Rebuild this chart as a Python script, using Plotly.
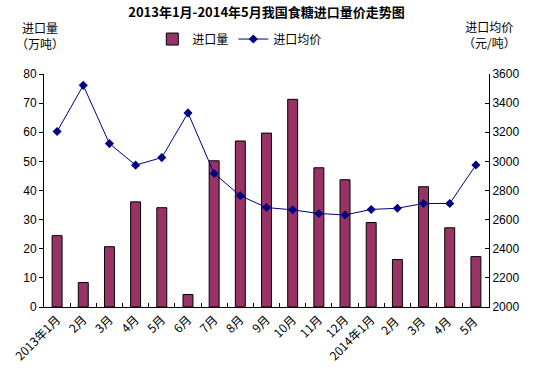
import plotly.graph_objects as go

categories = ["2013年1月", "2月", "3月", "4月", "5月", "6月", "7月", "8月", "9月",
              "10月", "11月", "12月", "2014年1月", "2月 ", "3月 ", "4月 ", "5月 "]
import_volume = [24.5, 8.4, 20.7, 36.1, 34.1, 4.3, 50.2, 57.0, 59.7,
                 71.3, 47.8, 43.7, 29.0, 16.3, 41.3, 27.2, 17.3]
avg_price = [3205, 3522, 3122, 2974, 3026, 3333, 2917, 2764, 2683,
             2667, 2642, 2632, 2670, 2678, 2711, 2711, 2975]

left_ticks = [0, 10, 20, 30, 40, 50, 60, 70, 80]
right_ticks = [2000, 2200, 2400, 2600, 2800, 3000, 3200, 3400, 3600]

font_main = "Liberation Sans, Arial, Noto Sans CJK SC, sans-serif"
font_cjk = "Noto Sans CJK SC, sans-serif"

fig = go.Figure()
fig.add_trace(go.Bar(
    x=categories, y=import_volume, name="进口量",
    marker=dict(color="#993366", line=dict(color="#000000", width=1)),
    width=0.38,
))
fig.add_trace(go.Scatter(
    x=categories, y=avg_price, name="进口均价", yaxis="y2",
    mode="lines+markers",
    line=dict(color="#000080", width=1),
    marker=dict(symbol="diamond", size=7, color="#000080"),
))

fig.update_layout(
    width=533, height=372,
    margin=dict(l=44, r=44, t=74, b=65),
    paper_bgcolor="white", plot_bgcolor="white",
    font=dict(family=font_main, size=12, color="#000000"),
    title=dict(text="<b>2013年1月-2014年5月我国食糖进口量价走势图</b>",
               x=0.5, xanchor="center", y=0.967, yanchor="middle",
               font=dict(family=font_cjk, size=13, color="#000000")),
    showlegend=True,
    legend=dict(orientation="h", x=0.44, xanchor="center", y=1.15, yanchor="middle",
                font=dict(family=font_cjk, size=12),
                bgcolor="rgba(0,0,0,0)", itemwidth=30, tracegroupgap=0),
    bargap=0.62,
    xaxis=dict(
        type="category", range=[-0.5, len(categories) - 0.5],
        tickangle=-45, showline=True, linecolor="#000000", linewidth=1,
        ticks="inside", ticklen=4, tickcolor="#000000", tickson="boundaries",
        showgrid=False, zeroline=False, automargin=False,
        tickfont=dict(family=font_cjk, size=12),
    ),
    yaxis=dict(
        range=[0, 80], tickvals=left_ticks, showline=True, linecolor="#000000", linewidth=1,
        ticks="outside", ticklen=4, tickcolor="#000000", showgrid=False, zeroline=False,
        tickfont=dict(size=12), automargin=False,
    ),
    yaxis2=dict(
        range=[2000, 3600], tickvals=right_ticks, overlaying="y", side="right",
        showline=True, linecolor="#000000", linewidth=1,
        ticks="inside", ticklen=4, tickcolor="#000000", showgrid=False, zeroline=False,
        tickfont=dict(size=12), automargin=False,
    ),
    annotations=[
        dict(text="进口量<br>（万吨）", xref="paper", yref="paper", x=-0.01, y=1.084,
             xanchor="center", yanchor="bottom", showarrow=False, align="center",
             font=dict(family=font_cjk, size=12)),
        dict(text="进口均价<br>（元/吨）", xref="paper", yref="paper", x=1.0, y=1.09,
             xanchor="center", yanchor="bottom", showarrow=False, align="center",
             font=dict(family=font_cjk, size=12)),
    ],
)

fig.write_html("out.html", config={"displayModeBar": False},
               post_script="document.body.style.margin='0';")
